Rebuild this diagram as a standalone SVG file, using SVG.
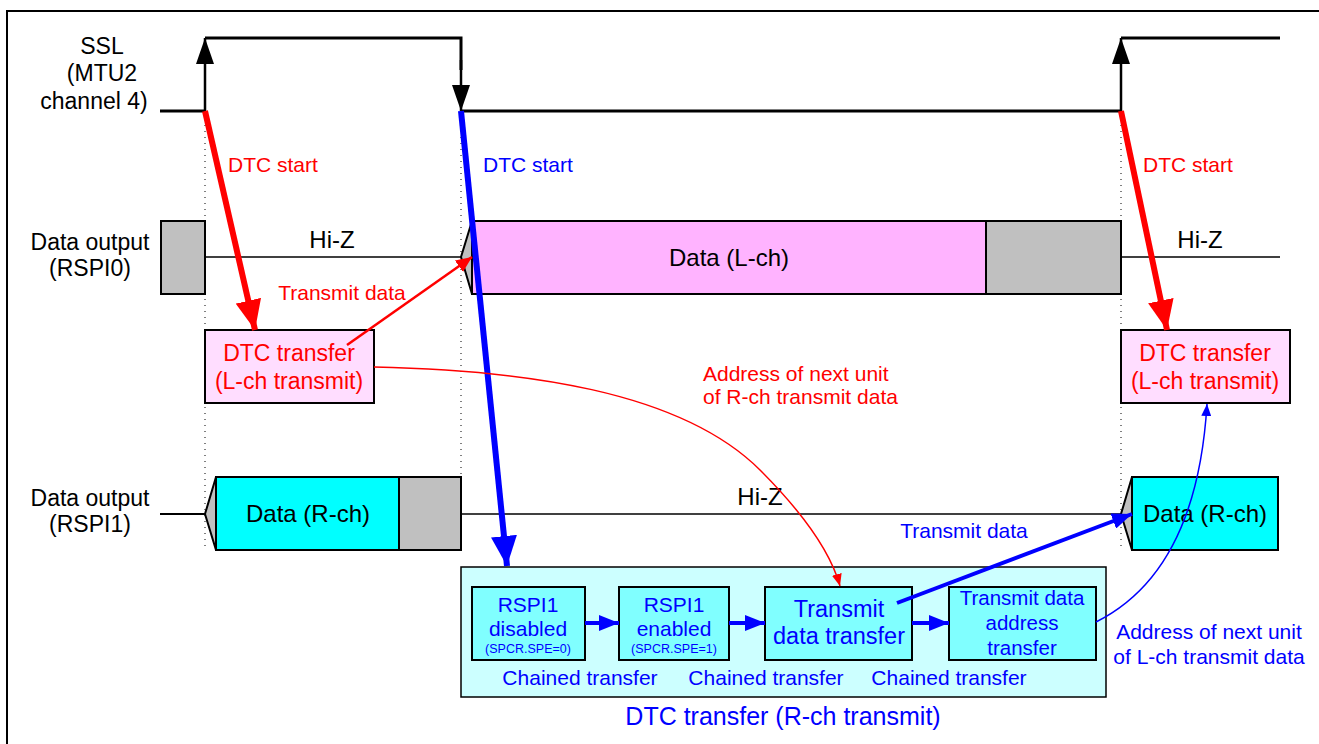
<svg xmlns="http://www.w3.org/2000/svg" width="1319" height="744" viewBox="0 0 1319 744">
<defs>
<style>
text{font-family:"Liberation Sans",Arial,sans-serif;}
.k{fill:#000;font-size:23px;text-anchor:middle}
.kl{fill:#000;font-size:24px;text-anchor:middle}
.r{fill:#ff0000;font-size:21px}
.b{fill:#0000ff;font-size:21px}
.m{text-anchor:middle}
.sig{fill:none;stroke:#000;stroke-width:3}
.dot{stroke:#000;stroke-width:1;stroke-dasharray:1 5}
.box{stroke:#000;stroke-width:2}
</style>
<marker id="akL" markerWidth="26" markerHeight="18" refX="26" refY="9" orient="auto" markerUnits="userSpaceOnUse" viewBox="0 0 26 18"><path d="M0,0 L26,9 L0,18 z" fill="#000"/></marker>
<marker id="arL" markerWidth="30" markerHeight="26" refX="30" refY="13" orient="auto" markerUnits="userSpaceOnUse" viewBox="0 0 30 26"><path d="M0,0 L30,13 L0,26 z" fill="#ff0000"/></marker>
<marker id="abL" markerWidth="30" markerHeight="26" refX="30" refY="13" orient="auto" markerUnits="userSpaceOnUse" viewBox="0 0 30 26"><path d="M0,0 L30,13 L0,26 z" fill="#0000ff"/></marker>
<marker id="arS" markerWidth="16" markerHeight="14" refX="16" refY="7" orient="auto" markerUnits="userSpaceOnUse" viewBox="0 0 16 14"><path d="M0,0 L16,7 L0,14 z" fill="#ff0000"/></marker>
<marker id="arT" markerWidth="12" markerHeight="10" refX="12" refY="5" orient="auto" markerUnits="userSpaceOnUse" viewBox="0 0 12 10"><path d="M0,0 L12,5 L0,10 z" fill="#ff0000"/></marker>
<marker id="abM" markerWidth="20" markerHeight="16" refX="20" refY="8" orient="auto" markerUnits="userSpaceOnUse" viewBox="0 0 20 16"><path d="M0,0 L20,8 L0,16 z" fill="#0000ff"/></marker>
<marker id="abT" markerWidth="12" markerHeight="10" refX="12" refY="5" orient="auto" markerUnits="userSpaceOnUse" viewBox="0 0 12 10"><path d="M0,0 L12,5 L0,10 z" fill="#0000ff"/></marker>
</defs>
<rect width="1319" height="744" fill="#fff"/>
<path d="M7,744 L7,11 L1319,11" fill="none" stroke="#000" stroke-width="2"/>

<g id="ssl">
<text class="k" x="102" y="54">SSL</text>
<text class="k" x="102" y="81">(MTU2</text>
<text class="k" x="94" y="109">channel 4)</text>
<path class="sig" d="M160,111 L205,111"/>
<path class="sig" d="M205,38 L461,38 L461,70"/>
<path class="sig" d="M461,111 L1121,111"/>
<path class="sig" d="M1121,38 L1280,38"/>
<line x1="205" y1="111" x2="205" y2="38" stroke="#000" stroke-width="2.5" marker-end="url(#akL)"/>
<line x1="461" y1="60" x2="461" y2="111" stroke="#000" stroke-width="2.5" marker-end="url(#akL)"/>
<line x1="1121" y1="111" x2="1121" y2="38" stroke="#000" stroke-width="2.5" marker-end="url(#akL)"/>
</g>

<g id="guides">
<line class="dot" x1="205" y1="113" x2="205" y2="550"/>
<line class="dot" x1="461" y1="113" x2="461" y2="550"/>
<line class="dot" x1="1121" y1="113" x2="1121" y2="550"/>
</g>

<g id="rspi0">
<text class="k" x="90" y="250">Data output</text>
<text class="k" x="90" y="276">(RSPI0)</text>
<line x1="205" y1="257" x2="461" y2="257" stroke="#000" stroke-width="1.5"/>
<line x1="1121" y1="257" x2="1280" y2="257" stroke="#000" stroke-width="1.5"/>
<rect class="box" x="161" y="221" width="44" height="73" fill="#c0c0c0"/>
<text class="kl" x="332" y="248">Hi-Z</text>
<path class="box" d="M472,221 L461,257 L472,294 z" fill="#c0c0c0"/>
<rect class="box" x="472" y="221" width="514" height="73" fill="#ffb3ff"/>
<rect class="box" x="986" y="221" width="135" height="73" fill="#c0c0c0"/>
<text class="kl" x="729" y="266">Data (L-ch)</text>
<text class="kl" x="1200" y="248">Hi-Z</text>
</g>

<g id="dtc-l1">
<rect class="box" x="205" y="330" width="169" height="73" fill="#ffddff"/>
<text class="r m" x="289" y="361" style="font-size:23px">DTC transfer</text>
<text class="r m" x="289" y="389" style="font-size:23px">(L-ch transmit)</text>
</g>

<g id="dtc-l2">
<rect class="box" x="1121" y="330" width="169" height="73" fill="#ffddff"/>
<text class="r m" x="1205" y="361" style="font-size:23px">DTC transfer</text>
<text class="r m" x="1205" y="389" style="font-size:23px">(L-ch transmit)</text>
</g>

<g id="rspi1">
<text class="k" x="90" y="506">Data output</text>
<text class="k" x="90" y="532">(RSPI1)</text>
<line x1="160" y1="514" x2="205" y2="514" stroke="#000" stroke-width="2"/>
<line x1="461" y1="514" x2="1121" y2="514" stroke="#000" stroke-width="1.5"/>
<path class="box" d="M216,477 L205,514 L216,550 z" fill="#c0c0c0"/>
<rect class="box" x="216" y="477" width="183" height="73" fill="#00ffff"/>
<rect class="box" x="399" y="477" width="62" height="73" fill="#c0c0c0"/>
<text class="kl" x="308" y="522">Data (R-ch)</text>
<text class="kl" x="760" y="505">Hi-Z</text>
<path class="box" d="M1132,477 L1121,514 L1132,550 z" fill="#c0c0c0"/>
<rect class="box" x="1132" y="477" width="146" height="73" fill="#00ffff"/>
<text class="kl" x="1205" y="522">Data (R-ch)</text>
</g>

<g id="dtc-r">
<rect x="461" y="567" width="645" height="130" fill="#ccffff" stroke="#000" stroke-width="1.5"/>
<text class="b m" x="783" y="725" style="font-size:25px">DTC transfer (R-ch transmit)</text>
<g id="n-disabled">
<rect class="box" x="472" y="587" width="113" height="73" fill="#80ffff"/>
<text class="b m" x="528" y="612" style="font-size:21px">RSPI1</text>
<text class="b m" x="528" y="636" style="font-size:21px">disabled</text>
<text class="b m" x="528" y="653" style="font-size:12.5px">(SPCR.SPE=0)</text>
</g>
<g id="n-enabled">
<rect class="box" x="619" y="587" width="110" height="73" fill="#80ffff"/>
<text class="b m" x="674" y="612" style="font-size:21px">RSPI1</text>
<text class="b m" x="674" y="636" style="font-size:21px">enabled</text>
<text class="b m" x="674" y="653" style="font-size:12.5px">(SPCR.SPE=1)</text>
</g>
<g id="n-tdt">
<rect class="box" x="765" y="587" width="147" height="73" fill="#80ffff"/>
<text class="b m" x="839" y="617" style="font-size:23.5px">Transmit</text>
<text class="b m" x="839" y="644" style="font-size:23.5px">data transfer</text>
</g>
<g id="n-tdat">
<rect class="box" x="949" y="587" width="147" height="73" fill="#80ffff"/>
<text class="b m" x="1022" y="605" style="font-size:20.5px">Transmit data</text>
<text class="b m" x="1022" y="630" style="font-size:20.5px">address</text>
<text class="b m" x="1022" y="655" style="font-size:20.5px">transfer</text>
</g>
<text class="b m" x="580" y="685">Chained transfer</text>
<text class="b m" x="766" y="685">Chained transfer</text>
<text class="b m" x="949" y="685">Chained transfer</text>
</g>

<g id="connectors">
<line x1="205" y1="111" x2="255" y2="330" stroke="#ff0000" stroke-width="6" marker-end="url(#arL)"/>
<line x1="461" y1="111" x2="507" y2="566" stroke="#0000ff" stroke-width="6" marker-end="url(#abL)"/>
<line x1="1121" y1="111" x2="1167" y2="330" stroke="#ff0000" stroke-width="6" marker-end="url(#arL)"/>
<line x1="347" y1="345" x2="472" y2="257" stroke="#ff0000" stroke-width="2.5" marker-end="url(#arS)"/>
<path d="M374,367 C520,370 680,390 760,470 C800,510 830,550 840,586" fill="none" stroke="#ff0000" stroke-width="1.5" marker-end="url(#arT)"/>
<line x1="897" y1="603" x2="1132" y2="514" stroke="#0000ff" stroke-width="4" marker-end="url(#abM)"/>
<path d="M1096,622 C1160,590 1200,520 1207,404" fill="none" stroke="#0000ff" stroke-width="1.5" marker-end="url(#abT)"/>
<line x1="585" y1="623" x2="619" y2="623" stroke="#0000ff" stroke-width="4" marker-end="url(#abM)"/>
<line x1="729" y1="623" x2="765" y2="623" stroke="#0000ff" stroke-width="4" marker-end="url(#abM)"/>
<line x1="912" y1="623" x2="949" y2="623" stroke="#0000ff" stroke-width="4" marker-end="url(#abM)"/>
<text class="r" x="228" y="172">DTC start</text>
<text class="b" x="483" y="172">DTC start</text>
<text class="r" x="1143" y="172">DTC start</text>
<text class="r m" x="342" y="300">Transmit data</text>
<text class="r" x="703" y="381">Address of next unit</text>
<text class="r" x="703" y="404">of R-ch transmit data</text>
<text class="b m" x="964" y="538">Transmit data</text>
<text class="b m" x="1209" y="639">Address of next unit</text>
<text class="b m" x="1209" y="664">of L-ch transmit data</text>
</g>
</svg>
